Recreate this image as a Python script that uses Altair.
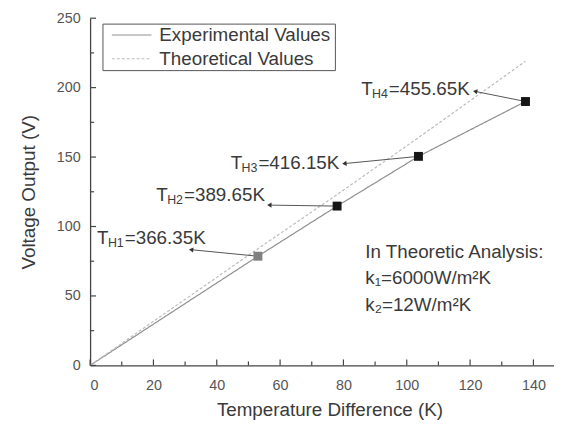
import altair as alt
import pandas as pd
import numpy as np

# ---- data ----
series_names = ["Experimental Values", "Theoretical Values"]
exp_dT = [0, 53, 78, 103.7, 137.5]
exp_V = [0, 78.6, 114.7, 150.5, 190]
th_dT = [0, 53, 78, 103.7, 137.5]
th_V = [0, 84, 123, 164, 219]

pt_dT = [53, 78, 103.7, 137.5]
pt_V = [78.6, 114.7, 150.5, 190]
sub_labels = ["H1", "H2", "H3", "H4"]
temp_texts = ["=366.35K", "=389.65K", "=416.15K", "=455.65K"]
label_dT = [2.2, 20.9, 44.4, 85.6]
label_V = [91.9, 122.5, 146.0, 198.7]
arrow_dT = [31.9, 56.6, 80.3, 121.6]
arrow_V = [83.3, 115.4, 145.3, 197.3]

note_lines = ["In Theoretic Analysis:", "k\u2081=6000W/m\u00b2K", "k\u2082=12W/m\u00b2K"]
note_dT = [86.9, 86.9, 86.9]
note_V = [81.9, 62.7, 43.2]

x_major = [0, 20, 40, 60, 80, 100, 120, 140]
x_minor = [10, 30, 50, 70, 90, 110, 130]
y_major = [0, 50, 100, 150, 200, 250]
y_minor = [25, 75, 125, 175, 225]

# ---- layout ----
W, H = 469, 351
XMAX, YMAX = 146.5, 250
FONT = "Liberation Sans"
TXT = "#3a3a3a"
FS = 19
LINE_COLORS = ["#8f8f8f", "#bcbcbc"]
LINE_DASH = [[1, 0], [3, 2]]

xs = alt.Scale(domain=[0, XMAX], nice=False, zero=False)
ys = alt.Scale(domain=[0, YMAX], nice=False)

df_lines = pd.concat([
    pd.DataFrame({"dT": exp_dT, "V": exp_V, "series": series_names[0]}),
    pd.DataFrame({"dT": th_dT, "V": th_V, "series": series_names[1]}),
])

base_x = alt.X("dT:Q", scale=xs, axis=alt.Axis(
    values=x_major, format="d", ticks=False, grid=False,
    title="Temperature Difference (K)", titleX=242,
    labelFontSize=14.5, labelPadding=13, titleFontSize=FS, titlePadding=9))
base_y = alt.Y("V:Q", scale=ys, axis=alt.Axis(
    values=y_major, format="d", ticks=False, grid=False,
    title="Voltage Output (V)",
    labelFontSize=14.5, labelPadding=10, titleFontSize=FS, titlePadding=18))

lines = alt.Chart(df_lines).mark_line(strokeWidth=1.2).encode(
    x=base_x, y=base_y,
    color=alt.Color("series:N", scale=alt.Scale(domain=series_names, range=LINE_COLORS), legend=None),
    strokeDash=alt.StrokeDash("series:N", scale=alt.Scale(domain=series_names, range=LINE_DASH), legend=None),
)

# ---- manual legend box (pixel layout) ----
legend_box = alt.Chart(pd.DataFrame({"a": [0]})).mark_rect(
    fill="white", stroke="#555", strokeWidth=1).encode(
    x=alt.value(13), x2=alt.value(248), y=alt.value(6), y2=alt.value(53))
leg_rows = [17, 41]
leg_rules = []
leg_texts = []
for name, col, dash, yy in zip(series_names, LINE_COLORS, LINE_DASH, leg_rows):
    leg_rules.append(alt.Chart(pd.DataFrame({"a": [0]})).mark_rule(
        color=col, strokeWidth=1.2, strokeDash=dash).encode(
        x=alt.value(22), x2=alt.value(62), y=alt.value(yy)))
    leg_texts.append(alt.Chart(pd.DataFrame({"a": [0]})).mark_text(
        text=name, align="left", baseline="middle", font=FONT, fontSize=FS, color=TXT).encode(
        x=alt.value(70), y=alt.value(yy)))

# pixel-space angle for arrowheads
px_x = W / XMAX
px_y = H / YMAX
ang = []
for a, b, c, d in zip(pt_dT, pt_V, arrow_dT, arrow_V):
    dx = (c - a) * px_x
    dy = -(d - b) * px_y
    ang.append(float(np.degrees(np.arctan2(-dy, -dx))) % 360)

df_pts = pd.DataFrame({
    "dT": pt_dT, "V": pt_V, "sub": sub_labels, "temp": temp_texts,
    "ldT": label_dT, "lV": label_V, "adT": arrow_dT, "aV": arrow_V, "ang": ang,
})

arrows = alt.Chart(df_pts).mark_rule(color="#555", strokeWidth=1).encode(
    x="dT:Q", y="V:Q", x2="adT:Q", y2="aV:Q")
heads = alt.Chart(df_pts).mark_point(shape="triangle-left", filled=True, color="#333", size=26, opacity=1).encode(
    x="adT:Q", y="aV:Q", angle=alt.Angle("ang:Q", scale=None))

squares = alt.Chart(df_pts).mark_square(size=81, opacity=1).encode(
    x="dT:Q", y="V:Q",
    color=alt.condition("datum.sub == 'H1'", alt.value("#808080"), alt.value("#151515")))

t_main = alt.Chart(df_pts).mark_text(text="T", align="left", baseline="middle", font=FONT, fontSize=FS, color=TXT).encode(
    x="ldT:Q", y="lV:Q")
t_sub = alt.Chart(df_pts).mark_text(align="left", baseline="middle", font=FONT, fontSize=12.5, color=TXT, dx=11, dy=5).encode(
    x="ldT:Q", y="lV:Q", text="sub:N")
t_rest = alt.Chart(df_pts).mark_text(align="left", baseline="middle", font=FONT, fontSize=FS, color=TXT, dx=28).encode(
    x="ldT:Q", y="lV:Q", text="temp:N")

df_note = pd.DataFrame({"dT": note_dT, "V": note_V, "txt": note_lines})
notes = alt.Chart(df_note).mark_text(align="left", baseline="middle", font=FONT, fontSize=FS, color=TXT).encode(
    x="dT:Q", y="V:Q", text="txt:N")

tick_col = "#444"
xt_maj = alt.Chart(pd.DataFrame({"t": x_major})).mark_rule(color=tick_col, strokeWidth=1.2).encode(
    x="t:Q", y=alt.value(H), y2=alt.value(H - 6))
xt_min = alt.Chart(pd.DataFrame({"t": x_minor})).mark_rule(color=tick_col, strokeWidth=1.2).encode(
    x="t:Q", y=alt.value(H), y2=alt.value(H - 4))
yt_maj = alt.Chart(pd.DataFrame({"t": y_major})).mark_rule(color=tick_col, strokeWidth=1.2).encode(
    y="t:Q", x=alt.value(0), x2=alt.value(6))
yt_min = alt.Chart(pd.DataFrame({"t": y_minor})).mark_rule(color=tick_col, strokeWidth=1.2).encode(
    y="t:Q", x=alt.value(0), x2=alt.value(4))

chart = alt.layer(
    lines, xt_maj, xt_min, yt_maj, yt_min, arrows, heads, squares, t_main, t_sub, t_rest, notes,
    legend_box, *leg_rules, *leg_texts
).properties(
    width=W, height=H,
    autosize=alt.AutoSizeParams(type="none"),
    padding={"left": 83, "top": 8, "right": 0, "bottom": 60},
).configure_view(stroke=None).configure_axis(
    labelFont=FONT, titleFont=FONT, labelColor="#555", titleColor=TXT,
    domainColor="#444", domainWidth=1.3, titleFontWeight="normal",
)

chart.save("out.html", embed_options={"renderer": "svg", "actions": False})
